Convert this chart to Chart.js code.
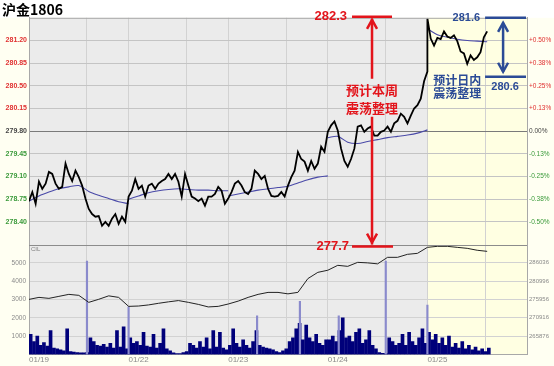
<!DOCTYPE html>
<html>
<head>
<meta charset="utf-8">
<script src="https://cdn.jsdelivr.net/npm/chart.js@4/dist/chart.umd.min.js"></script>
<style>
  html, body { margin: 0; padding: 0; background: #fff; }
  #wrap { width: 554px; height: 366px; }
</style>
</head>
<body>
<div id="wrap"><canvas id="chart" width="554" height="366"></canvas></div>
<script>
// axis labels
const dateLabels = ["01/19", "01/22", "01/23", "01/24", "01/25"];
const priceTicks = [278.40, 278.75, 279.10, 279.45, 279.80, 280.15, 280.50, 280.85, 281.20];
const pctLabels = ["-0.50%", "-0.38%", "-0.25%", "-0.13%", "0.00%", "+0.13%", "+0.25%", "+0.38%", "+0.50%"];
const volTicks = [1000, 2000, 3000, 4000, 5000];
const oiTicks = [265876, 270916, 275956, 280996, 286036];
const prevClose = 279.80;
const sessionSplit = 0.582; // night / day session boundary inside a trading day

// price (1 point = 1/30 day)
const price19 = [278.72, 278.86, 278.68, 279.02, 278.91, 278.99, 279.17, 279.14, 278.99, 278.91, 278.94, 279.30, 279.14, 279.03, 279.19, 279.09, 278.96, 278.76, 278.60, 278.52, 278.48, 278.49, 278.34, 278.40, 278.34, 278.45, 278.52, 278.37, 278.48, 278.40];
const price22 = [278.79, 278.88, 279.06, 278.91, 278.96, 278.79, 278.96, 278.99, 278.91, 278.99, 279.03, 279.06, 279.14, 279.06, 279.14, 279.02, 278.79, 279.14, 278.96, 278.79, 278.76, 278.72, 278.76, 278.65, 278.79, 278.79, 278.83, 278.94, 278.88, 278.68];
const price23 = [278.76, 278.86, 278.99, 279.03, 278.96, 278.86, 278.83, 278.91, 279.19, 279.14, 279.06, 279.11, 278.91, 278.80, 278.79, 278.80, 278.86, 278.79, 278.96, 279.09, 279.19, 279.48, 279.37, 279.33, 279.19, 279.34, 279.22, 279.30, 279.56, 279.48];
const price24 = [279.79, 279.89, 279.95, 279.81, 279.53, 279.34, 279.25, 279.37, 279.53, 279.87, 279.89, 279.79, 279.84, 279.87, 279.73, 279.73, 279.79, 279.81, 279.87, 279.79, 279.92, 279.96, 280.07, 280.02, 279.92, 280.04, 280.15, 280.20, 280.30, 280.57, 280.72];
const price25 = [281.54, 281.23, 281.12, 281.24, 281.22, 281.34, 281.26, 281.24, 281.28, 281.19, 281.03, 281.00, 280.84, 280.97, 280.90, 280.94, 281.02, 281.25, 281.34];

// intraday average price (1 point = 0.1 day)
const avg19 = [278.72, 278.80, 278.86, 278.91, 278.94, 278.96, 278.87, 278.81, 278.76, 278.71, 278.68];
const avg22 = [278.75, 278.80, 278.85, 278.88, 278.90, 278.91, 278.90, 278.89, 278.89, 278.88, 278.88];
const avg23 = [278.80, 278.83, 278.86, 278.89, 278.91, 278.93, 278.95, 279.00, 279.05, 279.09, 279.11];
const avg24 = [279.70, 279.72, 279.63, 279.61, 279.64, 279.67, 279.70, 279.72, 279.74, 279.77, 279.82];
const avg25 = [281.38, 281.29, 281.25, 281.22, 281.20, 281.19, 281.18];

// volume (1 bar = 1/30 day)
const vol19 = [1100, 700, 1000, 500, 650, 450, 1300, 350, 300, 250, 200, 1400, 150, 120, 100, 90, 80, 100, 900, 700, 500, 450, 550, 400, 600, 350, 1300, 400, 1500, 300];
const vol22 = [900, 600, 700, 500, 1200, 450, 400, 1100, 350, 600, 1400, 300, 200, 80, 50, 40, 100, 150, 600, 500, 350, 700, 400, 900, 300, 1300, 400, 1200, 350, 250];
const vol23 = [500, 1400, 600, 400, 800, 500, 350, 700, 1300, 500, 400, 350, 300, 250, 150, 100, 200, 300, 700, 900, 1400, 1700, 800, 1600, 900, 700, 1100, 600, 500, 800];
const vol24 = [800, 1000, 700, 1300, 2000, 900, 1000, 700, 1200, 1400, 600, 800, 1300, 500, 300, 100, 60, 40, 900, 700, 500, 600, 1100, 500, 1200, 700, 500, 900, 1400, 600];
const vol25 = [1200, 800, 1100, 600, 900, 500, 1000, 400, 600, 350, 700, 300, 500, 250, 400, 200, 300, 150, 350];
// session-open volume spikes
const spikeX = [0.582, 1.0, 2.29, 2.72, 3.11, 3.582, 4.0];
const spikeVol = [5100, 2600, 2100, 2900, 2100, 5100, 2700];

// open interest (1 point = 0.1 day)
const oi19 = [275980, 276530, 276260, 276810, 277360, 277090, 275160, 276000, 276950, 276530];
const oi22 = [274055, 274150, 274450, 274900, 275300, 275650, 275160, 274600, 273900, 274055];
const oi23 = [274700, 275500, 276530, 277360, 277900, 277900, 277500, 277910, 281700, 283420];
const oi24 = [284000, 285350, 285070, 286170, 286030, 285760, 287550, 287550, 288380, 288650];
const oi25 = [290300, 290580, 290580, 290300, 290030, 289500, 289200];

function toPoints(days, step, offset, broken) {
  const pts = [];
  days.forEach((vals, d) => {
    vals.forEach((v, i) => pts.push({ x: d + (i + offset) * step, y: v }));
    if (broken) pts.push({ x: d + (vals.length - 0.5) * step, y: null });
  });
  return pts;
}

const gridPos = [];
for (let d = 0; d <= 5; d++) {
  gridPos.push(d);
  if (d < 5) gridPos.push(d + sessionSplit);
}

const RED = "#E3141B";
const BLUE = "#2B4B96";
const GREY_BG = "#EBEBEB";
const YELLOW_BG = "#FFFFE2";
const MARGIN_BG = "#FFFFF2";

const tickColor = (v) => (v > prevClose + 1e-9 ? "#E03030" : v < prevClose - 1e-9 ? "#3A9A3A" : "#444444");

const backdrop = {
  id: "backdrop",
  beforeDraw(chart) {
    const { ctx, chartArea: ca, width, height } = chart;
    const x4 = chart.scales.x.getPixelForValue(4);
    ctx.save();
    ctx.fillStyle = "#ffffff";
    ctx.fillRect(0, 0, width, height);
    ctx.fillStyle = MARGIN_BG;
    ctx.fillRect(0, ca.top, width, height - ca.top);
    ctx.fillStyle = GREY_BG;
    ctx.fillRect(ca.left, ca.top, x4 - ca.left, ca.bottom - ca.top);
    ctx.fillStyle = YELLOW_BG;
    ctx.fillRect(x4, ca.top, ca.right - x4, ca.bottom - ca.top);
    ctx.restore();
  },
};

function chevron(ctx, x, y, dir) {
  ctx.beginPath();
  ctx.moveTo(x - 5, y + dir * 9);
  ctx.lineTo(x, y);
  ctx.lineTo(x + 5, y + dir * 9);
  ctx.stroke();
}

const notes = {
  id: "notes",
  afterDraw(chart) {
    const { ctx, chartArea: ca } = chart;
    const xs = chart.scales.x, ys = chart.scales.y, yv = chart.scales.yv;
    ctx.save();
    // frame
    ctx.strokeStyle = "#A8A8A8";
    ctx.lineWidth = 1;
    ctx.beginPath();
    ctx.moveTo(ca.left, ca.top + 0.5);
    ctx.lineTo(ca.right, ca.top + 0.5);
    ctx.stroke();
    ctx.strokeStyle = "#8C8C8C";
    ctx.beginPath();
    ctx.moveTo(ca.left, Math.round(ys.bottom) + 0.5);
    ctx.lineTo(ca.right, Math.round(ys.bottom) + 0.5);
    ctx.stroke();
    ctx.fillStyle = "#808080";
    ctx.font = "6px 'Liberation Sans'";
    ctx.textBaseline = "top";
    ctx.fillText("CIL", ca.left + 2, yv.top + 2);

    // weekly range (red)
    const wx = xs.getPixelForValue(3.444);
    const wTop = ys.top - 1, wBot = ys.bottom + 2;
    const mid = ys.getPixelForValue(280.30);
    ctx.strokeStyle = RED;
    ctx.fillStyle = RED;
    ctx.lineWidth = 2.5;
    ctx.beginPath();
    ctx.moveTo(wx - 20, wTop); ctx.lineTo(wx + 20, wTop);
    ctx.moveTo(wx - 20, wBot); ctx.lineTo(wx + 21, wBot);
    ctx.moveTo(wx, wTop + 2); ctx.lineTo(wx, mid - 20);
    ctx.moveTo(wx, mid + 18); ctx.lineTo(wx, wBot - 2);
    ctx.stroke();
    chevron(ctx, wx, wTop + 3, 1);
    chevron(ctx, wx, wBot - 4, -1);
    ctx.textBaseline = "middle";
    ctx.textAlign = "right";
    ctx.font = "bold 13px 'Liberation Sans'";
    ctx.fillText("282.3", wx - 25, wTop);
    ctx.fillText("277.7", wx - 23, wBot);
    ctx.textAlign = "center";
    ctx.font = "bold 13px 'Noto Sans CJK SC'";
    ctx.fillText("预计本周", wx, mid - 9);
    ctx.fillText("震荡整理", wx, mid + 9);

    // intraday range (blue)
    const dx = xs.getPixelForValue(4.76);
    const dTop = ys.top, dBot = ys.getPixelForValue(280.64);
    ctx.strokeStyle = BLUE;
    ctx.fillStyle = BLUE;
    ctx.lineWidth = 2.5;
    ctx.beginPath();
    ctx.moveTo(dx - 18, dTop); ctx.lineTo(ca.right - 1, dTop);
    ctx.moveTo(dx - 18, dBot); ctx.lineTo(ca.right - 1, dBot);
    ctx.moveTo(dx, dTop + 5); ctx.lineTo(dx, dBot - 5);
    ctx.stroke();
    chevron(ctx, dx, dTop + 5, 1);
    chevron(ctx, dx, dBot - 5, -1);
    ctx.textAlign = "right";
    ctx.font = "bold 11px 'Liberation Sans'";
    ctx.fillText("281.6", dx - 23, dTop);
    ctx.textAlign = "center";
    ctx.fillText("280.6", dx + 2, dBot + 10);
    const tx = xs.getPixelForValue(4.30);
    ctx.font = "bold 12px 'Noto Sans CJK SC'";
    ctx.fillText("预计日内", tx, dBot + 4);
    ctx.fillText("震荡整理", tx, dBot + 17);
    ctx.restore();
  },
};

const fit = (w) => (scale) => { scale.width = w; };
const setTicks = (vals) => (scale) => { scale.ticks = vals.map((v) => ({ value: v })); };

Chart.defaults.font.family = "'Liberation Sans', Arial, sans-serif";

const config = {
  data: {
    datasets: [
      {
        type: "line",
        label: "price",
        data: toPoints([price19, price22, price23, price24, price25], 1 / 30, 0, false),
        yAxisID: "y",
        borderColor: "#000000",
        borderWidth: 1.8,
        pointRadius: 0,
        tension: 0,
        order: 0,
      },
      {
        type: "line",
        label: "average",
        data: toPoints([avg19, avg22, avg23, avg24, avg25], 0.1, 0, true),
        yAxisID: "y",
        borderColor: "#4A4AA8",
        borderWidth: 1.1,
        pointRadius: 0,
        tension: 0.3,
        spanGaps: false,
        order: 1,
      },
      {
        type: "line",
        label: "open interest",
        data: toPoints([oi19, oi22, oi23, oi24, oi25], 0.1, 0, false),
        yAxisID: "yo",
        borderColor: "#222222",
        borderWidth: 1,
        pointRadius: 0,
        tension: 0,
        order: 2,
      },
      {
        type: "bar",
        label: "volume",
        data: toPoints([vol19, vol22, vol23, vol24, vol25], 1 / 30, 0.5, false),
        yAxisID: "yv",
        backgroundColor: "#00007A",
        barThickness: 3,
        grouped: false,
        borderWidth: 0,
        order: 4,
      },
      {
        type: "bar",
        label: "spikes",
        data: spikeX.map((x, i) => ({ x: x, y: spikeVol[i] })),
        yAxisID: "yv",
        backgroundColor: "#8A8ACC",
        barThickness: 1.5,
        grouped: false,
        borderWidth: 0,
        order: 3,
      },
    ],
  },
  options: {
    responsive: false,
    animation: false,
    layout: { padding: { left: 2, right: 0, top: 0, bottom: 0 } },
    plugins: {
      legend: { display: false },
      tooltip: { enabled: false },
      title: {
        display: true,
        text: "沪金1806",
        align: "start",
        color: "#000000",
        font: { family: "'Noto Sans CJK SC'", size: 14, weight: "bold", lineHeight: 1.2 },
        padding: { top: 1, bottom: 0 },
      },
    },
    scales: {
      x: {
        type: "linear",
        min: 0,
        max: 5,
        offset: false,
        afterBuildTicks: setTicks(gridPos),
        ticks: {
          autoSkip: false,
          maxRotation: 0,
          align: "start",
          padding: 1,
          color: "#8A8A8A",
          font: { size: 8 },
          callback: (v) => (Number.isInteger(v) && v < 5 ? dateLabels[v] : ""),
        },
        grid: { color: "#D2D2D2", drawTicks: false, offset: false },
        border: { color: "#A8A8A8" },
      },
      y: {
        type: "linear",
        position: "left",
        stack: "L",
        stackWeight: 227,
        weight: 1,
        min: 278.05,
        max: 281.55,
        afterBuildTicks: setTicks(priceTicks),
        afterFit: fit(27),
        ticks: {
          padding: 2,
          font: { size: 7, weight: "bold" },
          color: (c) => tickColor(c.tick.value),
          callback: (v) => v.toFixed(2),
        },
        grid: {
          drawTicks: false,
          color: (c) => (c.tick && Math.abs(c.tick.value - prevClose) < 1e-9 ? "#7A7A7A" : "#C4C4C4"),
        },
        border: { color: "#A8A8A8" },
      },
      yv: {
        type: "linear",
        position: "left",
        stack: "L",
        stackWeight: 110,
        weight: 0,
        min: 0,
        max: 6000,
        afterBuildTicks: setTicks(volTicks),
        afterFit: fit(27),
        ticks: { padding: 3, font: { size: 6.5 }, color: "#8A8A8A", callback: (v) => String(v) },
        grid: { drawTicks: false, color: "#D2D2D2" },
        border: { color: "#A8A8A8" },
      },
      yr: {
        type: "linear",
        position: "right",
        stack: "R",
        stackWeight: 227,
        weight: 0,
        min: 278.05,
        max: 281.55,
        afterBuildTicks: setTicks(priceTicks),
        afterFit: fit(27),
        ticks: {
          padding: 2,
          font: { size: 6.5 },
          color: (c) => tickColor(c.tick.value),
          callback: (v, i) => pctLabels[i],
        },
        grid: { drawOnChartArea: false, drawTicks: false },
        border: { color: "#A8A8A8" },
      },
      yo: {
        type: "linear",
        position: "right",
        stack: "R",
        stackWeight: 110,
        weight: 1,
        min: 260836,
        max: 291076,
        afterBuildTicks: setTicks(oiTicks),
        afterFit: fit(27),
        ticks: { padding: 2, font: { size: 6 }, color: "#8A8A8A", callback: (v) => String(v) },
        grid: { drawOnChartArea: false, drawTicks: false },
        border: { color: "#A8A8A8" },
      },
    },
  },
  plugins: [backdrop, notes],
};

new Chart(document.getElementById("chart").getContext("2d"), config);
</script>
</body>
</html>
